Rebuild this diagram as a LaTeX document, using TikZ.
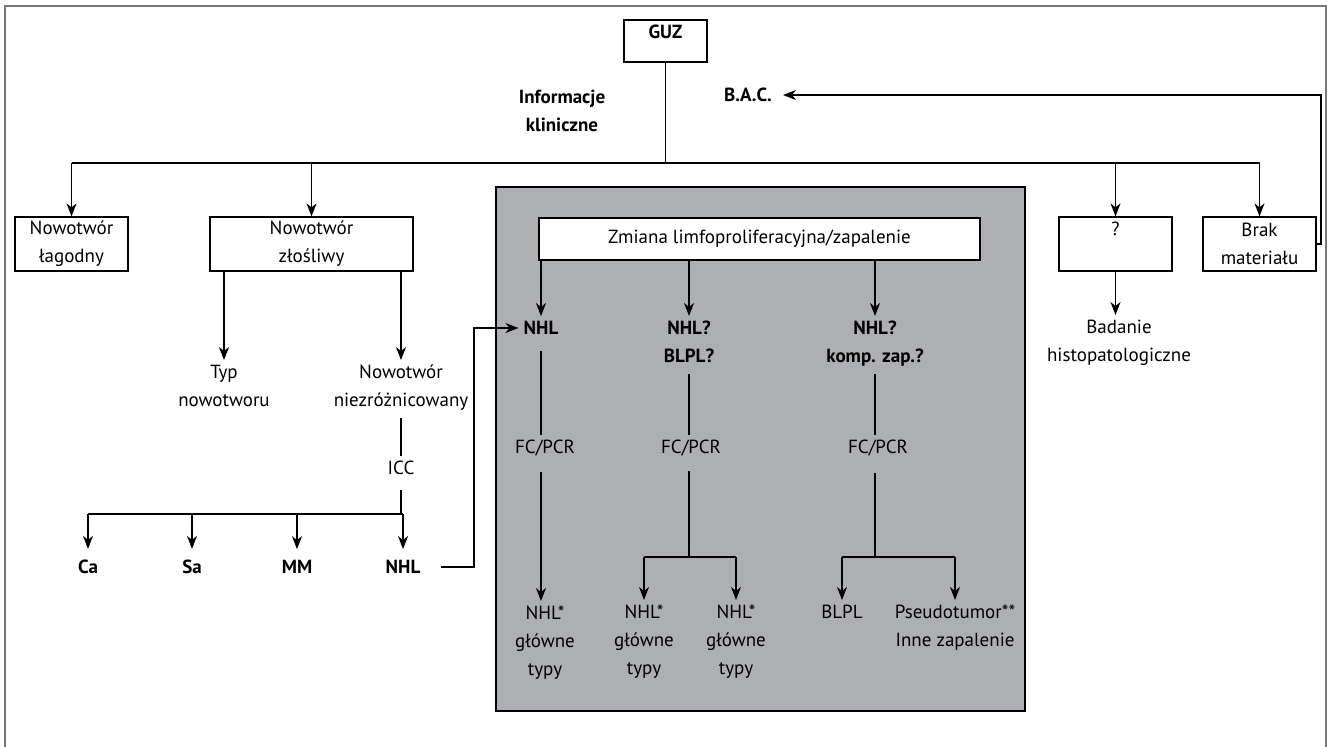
\documentclass[tikz,border=0pt]{standalone}
\usepackage{fontspec}
\setmainfont{PT Sans}
\usetikzlibrary{arrows.meta}
\definecolor{panel}{RGB}{174,175,179}
\definecolor{framec}{RGB}{120,120,120}
\tikzset{
  every node/.style={font=\fontsize{19}{28}\selectfont, inner sep=5pt, align=center},
  box/.style={draw, line width=1.2pt, fill=white, inner sep=0pt},
  bf/.style={font=\fontsize{19}{28}\selectfont\bfseries},
  conn/.style={line width=1.2pt},
  arr/.style={conn, -{Stealth[length=13pt,width=10pt,inset=4pt]}},
}
\begin{document}
\begin{tikzpicture}[x=1pt,y=-1pt]
\useasboundingbox (0,0) rectangle (1331,747);
% outer frame
\draw[framec, line width=1.6pt] (5,747) -- (5,6) -- (1326,6) -- (1326,747);
% grey panel
\fill[panel] (496,187) rectangle (1025,711);
\draw[line width=1.2pt] (496,187) rectangle (1025,711);

% top
\node[box, minimum width=83, minimum height=42] (guz) at (665.5,41) {};
\node[bf] (guzt) at (665.5,32) {GUZ};
\node[bf] (info) at (562,111) {Informacje\\kliniczne};
\node[bf] (bac) at (748,95) {B.A.C.};

% first level boxes
\node[box, minimum width=113, minimum height=54] (lag) at (71.5,244) {Nowotwór\\łagodny};
\node[box, minimum width=203, minimum height=54] (zl) at (311.5,244) {Nowotwór\\złośliwy};
\node[box, minimum width=113, minimum height=54] (q) at (1115.5,244) {};
\node (qt) at (1115.5,229) {?};
\node[box, minimum width=113, minimum height=54] (brak) at (1259.5,244) {Brak\\materiału};
\node[box, minimum width=441, minimum height=42] (zm) at (759.5,239) {Zmiana limfoproliferacyjna/zapalenie};

% left branch
\node[anchor=north] (typ) at (224,360) {Typ\\nowotworu};
\node[anchor=north] (nz) at (401,360) {Nowotwór\\niezróżnicowany};
\node (icc) at (401,468) {ICC};
\node[bf] (ca) at (88,567) {Ca};
\node[bf] (sa) at (192,567) {Sa};
\node[bf] (mm) at (297,567) {MM};
\node[bf] (nhlb) at (403,567) {NHL};

% grey panel contents
\node[bf] (n1) at (541,328) {NHL};
\node (fc1) at (545,448) {FC/PCR};
\node[anchor=north] (r1) at (545,601) {NHL*\\główne\\typy};
\node[bf, anchor=north] (n2) at (689,316) {NHL?\\BLPL?};
\node (fc2) at (691,448) {FC/PCR};
\node[anchor=north] (r2a) at (644,600) {NHL*\\główne\\typy};
\node[anchor=north] (r2b) at (736,600) {NHL*\\główne\\typy};
\node[bf, anchor=north] (n3) at (875,316) {NHL?\\komp. zap.?};
\node (fc3) at (878,448) {FC/PCR};
\node[anchor=north] (r3a) at (842,600) {BLPL};
\node[anchor=north] (r3b) at (955,600) {Pseudotumor**\\Inne zapalenie};

% right
\node[anchor=north] (bad) at (1119,315) {Badanie\\histopatologiczne};

% helper coordinates
\coordinate (h) at (0,163);
\coordinate (b1) at (0,514);
\coordinate (b2) at (0,557);
\coordinate (lp) at (1321,95);
\coordinate (j) at (474,0);

% connectors top
\draw[conn] (guz.south) -- (guz.south |- h);
\draw[conn] (lag.north |- h) -- (brak.north |- h);
\foreach \n in {lag,zl,q,brak} \draw[arr] (\n.north |- h) -- (\n.north);
\draw[arr, shorten >=6pt] (brak.east) -- (brak.east -| lp) -- (lp) -- (bac.east);

% left branch connectors
\draw[arr] (zl.south -| typ.north) -- (typ.north);
\draw[arr] (zl.south -| nz.north) -- (nz.north);
\draw[conn, shorten <=2pt] (nz.south) -- (icc.north);
\draw[conn, shorten <=10pt] (icc.south) -- (icc.south |- b1);
\draw[conn] (ca.north |- b1) -- (nhlb.north |- b1);
\foreach \n in {ca,sa,mm,nhlb} \draw[arr, shorten >=6pt] (\n.north |- b1) -- (\n.north);
\draw[arr, shorten <=15pt] (nhlb.east) -- (nhlb.east -| j) -- (j |- n1.west) -- (n1.west);

% grey panel connectors
\draw[arr] (zm.south -| n1.north) -- (n1.north);
\draw[arr] (zm.south -| n2.north) -- (n2.north);
\draw[arr] (zm.south -| n3.north) -- (n3.north);

\draw[conn, shorten <=11pt] (n1.south) -- (n1.south |- fc1.north);
\draw[arr, shorten <=11pt] (fc1.south -| n1.south) -- (r1.north -| n1.south);

\draw[conn, shorten <=6pt] (n2.south) -- (n2.south |- fc2.north);
\draw[conn, shorten <=10pt] (fc2.south -| n2.south) -- (n2.south |- b2);
\draw[conn] (r2a.north |- b2) -- (r2b.north |- b2);
\draw[arr] (r2a.north |- b2) -- (r2a.north);
\draw[arr] (r2b.north |- b2) -- (r2b.north);

\draw[conn, shorten <=2pt] (n3.south) -- (n3.south |- fc3.north);
\draw[conn, shorten <=12pt] (fc3.south -| n3.south) -- (n3.south |- b2);
\draw[conn] (r3a.north |- b2) -- (r3b.north |- b2);
\draw[arr] (r3a.north |- b2) -- (r3a.north);
\draw[arr] (r3b.north |- b2) -- (r3b.north);

% right connector
\draw[arr] (q.south) -- (q.south |- bad.north);
\end{tikzpicture}
\end{document}
